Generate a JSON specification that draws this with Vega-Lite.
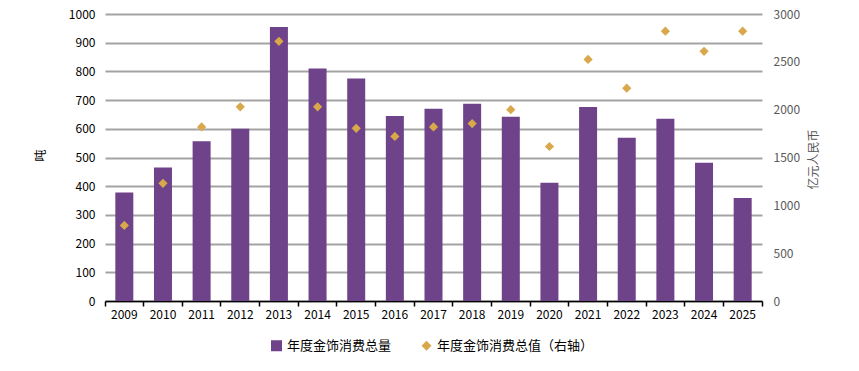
{
  "$schema": "https://vega.github.io/schema/vega-lite/v6.json",
  "width": 657,
  "height": 287,
  "autosize": "none",
  "padding": {"left": 105, "top": 14, "right": 97, "bottom": 70},
  "config": {
    "font": "Noto Sans CJK SC",
    "view": {"stroke": null},
    "axis": {"labelFont": "Noto Sans CJK SC", "titleFont": "Noto Sans CJK SC", "labelFontSize": 12, "titleFontSize": 12, "titleFontWeight": "normal"}
  },
  "data": {
    "values": [
      {"year": "2009", "volume": 378, "value": 790},
      {"year": "2010", "volume": 465, "value": 1230},
      {"year": "2011", "volume": 557, "value": 1820},
      {"year": "2012", "volume": 600, "value": 2030},
      {"year": "2013", "volume": 955, "value": 2715},
      {"year": "2014", "volume": 810, "value": 2030},
      {"year": "2015", "volume": 775, "value": 1805},
      {"year": "2016", "volume": 645, "value": 1720},
      {"year": "2017", "volume": 670, "value": 1820},
      {"year": "2018", "volume": 687, "value": 1855},
      {"year": "2019", "volume": 642, "value": 2000},
      {"year": "2020", "volume": 412, "value": 1615},
      {"year": "2021", "volume": 676, "value": 2525},
      {"year": "2022", "volume": 569, "value": 2225},
      {"year": "2023", "volume": 635, "value": 2820},
      {"year": "2024", "volume": 482, "value": 2610},
      {"year": "2025", "volume": 359, "value": 2820}
    ]
  },
  "encoding": {
    "x": {
      "field": "year",
      "type": "ordinal",
      "scale": {"paddingInner": 0, "paddingOuter": 0},
      "axis": {
        "title": null,
        "labelAngle": 0,
        "labelColor": "#000000",
        "domainColor": "#000000",
        "domainWidth": 1.5,
        "tickColor": "#000000",
        "tickWidth": 1.5,
        "tickSize": 5,
        "bandPosition": 1,
        "tickExtra": true,
        "labelPadding": 3,
        "grid": false
      }
    }
  },
  "layer": [
    {
      "mark": {"type": "bar", "size": 18},
      "encoding": {
        "y": {
          "field": "volume",
          "type": "quantitative",
          "scale": {"domain": [0, 1000], "nice": false},
          "axis": {
            "title": "吨",
            "titleAngle": -90,
            "titleX": -58,
            "titleY": 141,
            "titleColor": "#000000",
            "values": [0, 100, 200, 300, 400, 500, 600, 700, 800, 900, 1000],
            "format": "d",
            "labelColor": "#000000",
            "domain": false,
            "ticks": false,
            "tickSize": 0,
            "labelPadding": 10,
            "grid": true,
            "gridColor": "#A3A3A3",
            "gridWidth": 2
          }
        },
        "color": {
          "datum": "年度金饰消费总量",
          "type": "nominal",
          "scale": {"domain": ["年度金饰消费总量", "年度金饰消费总值（右轴）"], "range": ["#6E4389", "#D8A84A"]},
          "legend": {
            "title": null,
            "orient": "none",
            "legendX": 165,
            "legendY": 325,
            "direction": "horizontal",
            "columnPadding": 28,
            "labelFontSize": 13,
            "labelColor": "#000000",
            "labelFont": "Noto Sans CJK SC",
            "symbolOpacity": 1,
            "symbolStrokeWidth": 0,
            "encode": {
              "symbols": {
                "update": {
                  "shape": {"signal": "datum.value === '年度金饰消费总量' ? 'square' : 'diamond'"},
                  "size": {"signal": "datum.value === '年度金饰消费总量' ? 121 : 100"},
                  "strokeWidth": {"value": 0}
                }
              }
            }
          }
        }
      }
    },
    {
      "mark": {"type": "point", "shape": "diamond", "filled": true, "size": 85, "opacity": 1},
      "encoding": {
        "y": {
          "field": "value",
          "type": "quantitative",
          "scale": {"domain": [0, 3000], "nice": false},
          "axis": {
            "orient": "right",
            "title": "亿元人民币",
            "titleAngle": -90,
            "titleX": 58,
            "titleY": 145,
            "titleColor": "#595959",
            "values": [0, 500, 1000, 1500, 2000, 2500, 3000],
            "format": "d",
            "labelColor": "#595959",
            "domain": false,
            "ticks": false,
            "tickSize": 0,
            "labelPadding": 11,
            "grid": false
          }
        },
        "color": {"datum": "年度金饰消费总值（右轴）", "type": "nominal"}
      }
    }
  ],
  "resolve": {"scale": {"y": "independent"}}
}
